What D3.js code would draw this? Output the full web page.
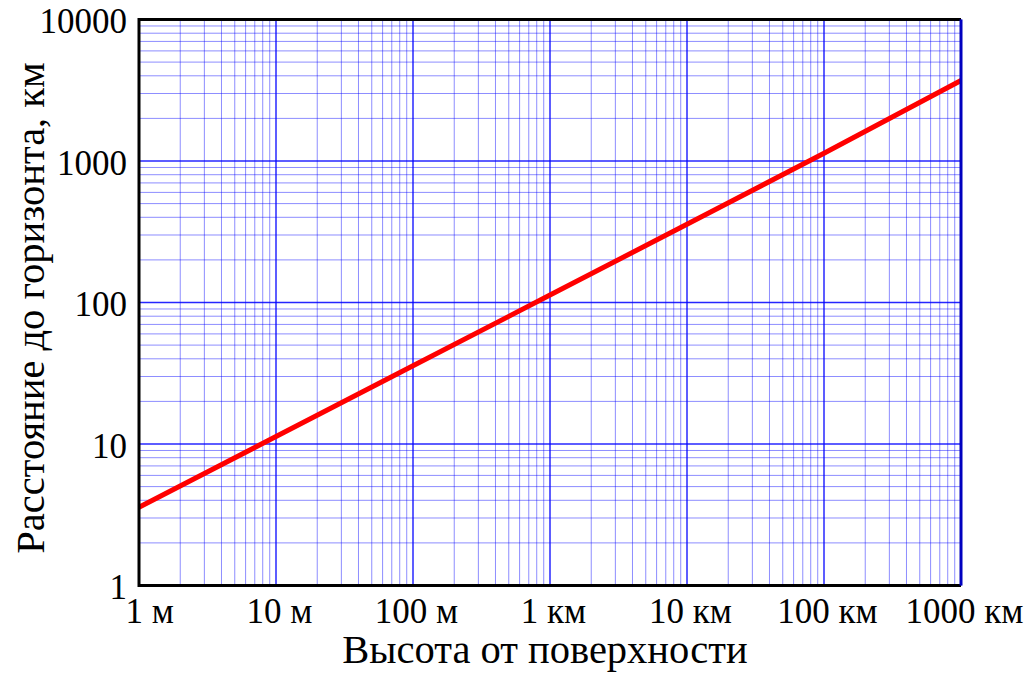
<!DOCTYPE html>
<html>
<head>
    <meta charset="utf-8">
    <title>horizon distance</title>
    <style>
    body { margin: 0; background: #fff; }
    svg { display: block; }
    text { font-family: "Liberation Serif", "Times New Roman", serif; fill: #000; }
    .minor line { stroke: #0000ff; stroke-opacity: 0.45; stroke-width: 1; }
    .major line { stroke: #0000ff; stroke-opacity: 0.85; stroke-width: 1.5; }
    </style>
</head>
<body>
    <svg width="1024" height="686"></svg>
    <script src="https://d3js.org/d3.v7.min.js"></script>
    <script>
        // heights in metres, distances in km
        var heights = [1, 10, 100, 1000, 10000, 100000, 1000000];
        var distances = [3.57, 11.29, 35.7, 112.9, 357.1, 1133, 3707];

        var xTicks = [1, 10, 100, 1000, 10000, 100000, 1000000];
        var xTickLabels = ["1 м", "10 м", "100 м", "1 км", "10 км", "100 км", "1000 км"];
        var yTicks = [1, 10, 100, 1000, 10000];
        var yTickLabels = ["1", "10", "100", "1000", "10000"];

        var plotLeft = 139, plotRight = 961, plotTop = 19.5, plotBottom = 585.5;

        var svg = d3.select("svg");

        var x = d3.scaleLog().domain([1, 1e6]).range([plotLeft, plotRight]);
        var y = d3.scaleLog().domain([1, 1e4]).range([plotBottom, plotTop]);

        // minor grid
        var minor = svg.append("g").attr("class", "minor");
        minor.selectAll(".vx")
            .data(x.ticks().filter(d => xTicks.indexOf(d) < 0))
            .enter().append("line")
            .attr("x1", d => x(d)).attr("x2", d => x(d))
            .attr("y1", plotTop).attr("y2", plotBottom);
        minor.selectAll(".hy")
            .data(y.ticks().filter(d => yTicks.indexOf(d) < 0))
            .enter().append("line")
            .attr("y1", d => y(d)).attr("y2", d => y(d))
            .attr("x1", plotLeft).attr("x2", plotRight);

        // major grid
        var major = svg.append("g").attr("class", "major");
        major.selectAll(".vx")
            .data(xTicks)
            .enter().append("line")
            .attr("x1", d => x(d)).attr("x2", d => x(d))
            .attr("y1", plotTop).attr("y2", plotBottom);
        major.selectAll(".hy")
            .data(yTicks)
            .enter().append("line")
            .attr("y1", d => y(d)).attr("y2", d => y(d))
            .attr("x1", plotLeft).attr("x2", plotRight);

        // curve
        var line = d3.line()
            .x((d, i) => x(heights[i]))
            .y(d => y(d));
        svg.append("path")
            .datum(distances)
            .attr("d", line)
            .attr("fill", "none")
            .attr("stroke", "#ff0000")
            .attr("stroke-width", 5);

        // frame: black left/bottom/top, right edge is the blue grid line
        svg.append("path")
            .attr("d", "M" + plotRight + "," + plotTop + "H" + plotLeft + "V" + plotBottom + "H" + plotRight)
            .attr("fill", "none")
            .attr("stroke", "#000")
            .attr("stroke-width", 3);
        svg.append("line")
            .attr("x1", plotRight).attr("x2", plotRight)
            .attr("y1", plotTop).attr("y2", plotBottom)
            .attr("stroke", "#0000c0")
            .attr("stroke-width", 3);

        // x axis labels
        var xAxis = d3.axisBottom(x)
            .tickValues(xTicks)
            .tickSize(0)
            .tickPadding(0)
            .tickFormat((d, i) => xTickLabels[i]);
        var gx = svg.append("g").attr("transform", "translate(3," + plotBottom + ")").call(xAxis);
        gx.select(".domain").remove();
        gx.selectAll("text")
            .attr("y", 37)
            .attr("dy", null)
            .style("font-size", "35px")
            .style("font-family", '"Liberation Serif", serif');
        gx.select(".tick text").attr("text-anchor", "start").attr("x", -17);

        // y axis labels
        var yAxis = d3.axisLeft(y)
            .tickValues(yTicks)
            .tickSize(0)
            .tickPadding(12)
            .tickFormat((d, i) => yTickLabels[i]);
        var gy = svg.append("g").attr("transform", "translate(" + plotLeft + ",2)").call(yAxis);
        gy.select(".domain").remove();
        gy.selectAll("text")
            .style("font-size", "35px")
            .style("font-family", '"Liberation Serif", serif');

        // titles
        svg.append("text")
            .attr("x", 545)
            .attr("y", 663)
            .attr("text-anchor", "middle")
            .style("font-size", "40.5px")
            .text("Высота от поверхности");
        svg.append("text")
            .attr("transform", "translate(44,308) rotate(-90)")
            .attr("text-anchor", "middle")
            .style("font-size", "40.5px")
            .text("Расстояние до горизонта, км");
    </script>
</body>
</html>
